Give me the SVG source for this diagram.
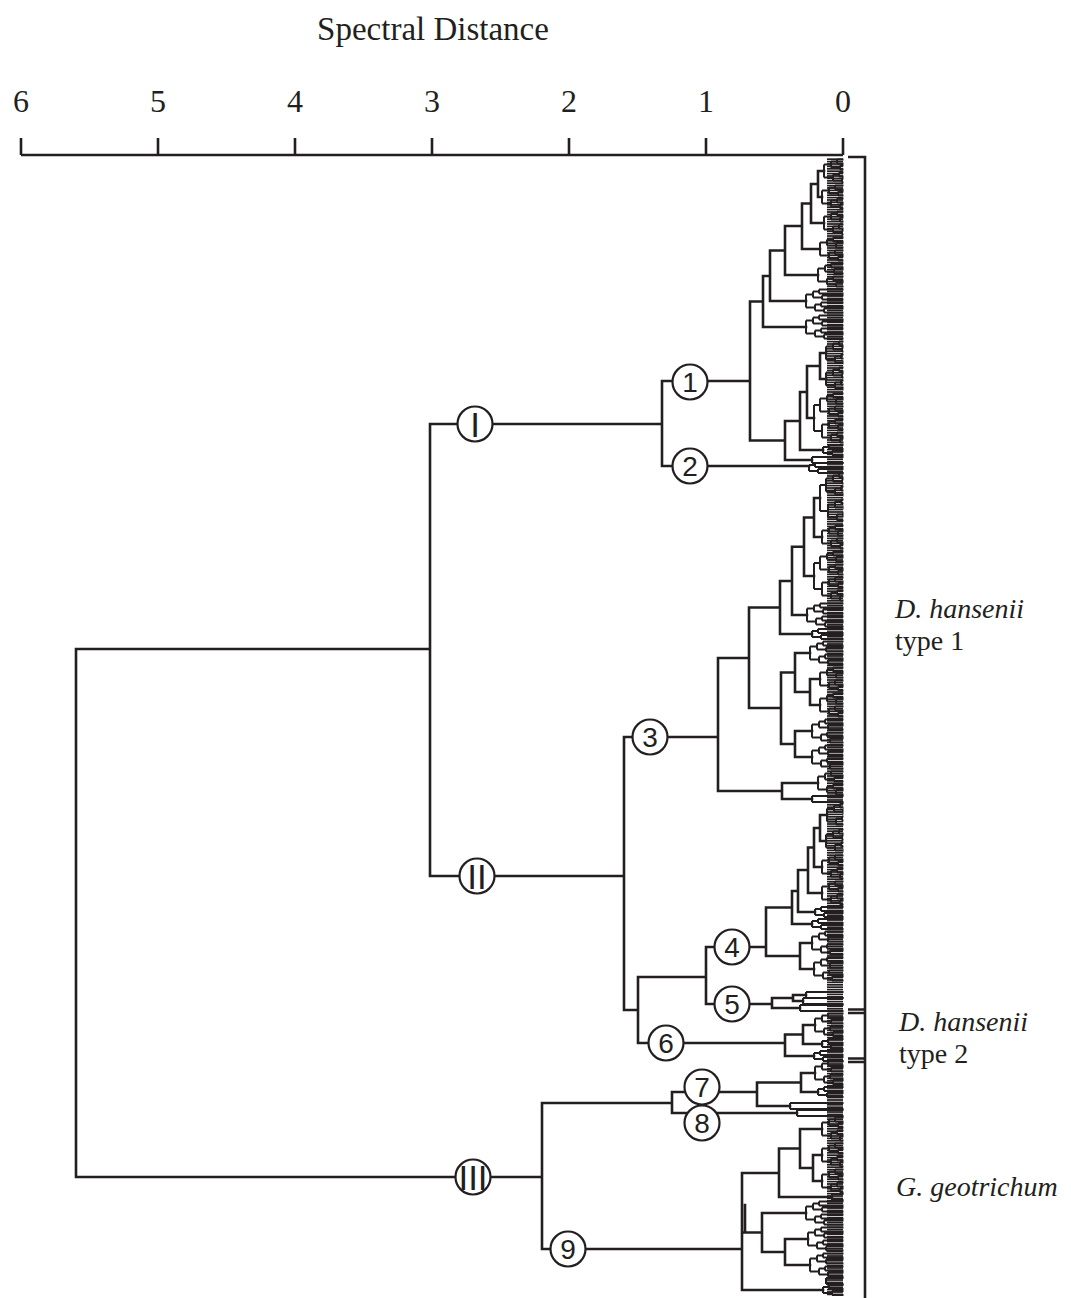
<svg xmlns="http://www.w3.org/2000/svg" xmlns:xlink="http://www.w3.org/1999/xlink" width="1071" height="1298" viewBox="0 0 1071 1298">
<style>
.br{fill:none;stroke:#231f20;stroke-width:2.6;stroke-linecap:square;stroke-linejoin:miter}
.lf{fill:none;stroke:#231f20;stroke-width:2}
.ax{fill:none;stroke:#231f20;stroke-width:2.6}
.cir{fill:#fff;stroke:#231f20;stroke-width:2.2}
.num{font-family:"Liberation Sans",Arial,sans-serif;font-size:28px;fill:#231f20;text-anchor:middle}
.rom{font-family:"Liberation Sans",Arial,sans-serif;font-size:35px;fill:#231f20;text-anchor:middle}
.ser{font-family:"Liberation Serif","Times New Roman",serif;fill:#231f20}
.tick{font-size:32px;text-anchor:middle}
.lab{font-size:28px}
.it{font-style:italic}
</style>
<defs>
<clipPath id="cp"><rect x="0" y="150" width="843.5" height="1148"/></clipPath>
<pattern id="lv" width="20" height="2.4" patternUnits="userSpaceOnUse"><rect width="20" height="1.7" fill="#231f20"/></pattern>
<path id="T" d="M0,-3V3M0,-3H130M0,3H130"/>
<path id="S" d="M0,-3V3M0,-3H6M6,-5V-1M6,-5H130M6,-1H130M0,3H9M9,1V5M9,1H130M9,5H130"/>
<g id="M"><path d="M0,-6.5V6.5M0,-6.5H7M0,6.5H9"/><use href="#S" x="7" y="-6.5"/><use href="#S" x="9" y="6.5"/></g>
<g id="L"><path d="M0,-13V13M0,-13H6M0,13H8"/><use href="#M" x="6" y="-13"/><use href="#M" x="8" y="13"/></g>
</defs>
<rect width="1071" height="1298" fill="#fff"/>

<g id="axis">
<text class="ser" x="433" y="40" font-size="33" text-anchor="middle">Spectral Distance</text>
<g class="ser tick">
<text x="21" y="112">6</text><text x="158" y="112">5</text><text x="295" y="112">4</text><text x="432" y="112">3</text><text x="569" y="112">2</text><text x="706" y="112">1</text><text x="843" y="112">0</text>
</g>
<path class="ax" d="M21,155H843M21,138V155M158,138V155M295,138V155M432,138V155M569,138V155M706,138V155M843,138V155"/>
</g>

<g id="connectors" clip-path="url(#cp)">
<rect x="827" y="158" width="16" height="1138" fill="url(#lv)"/>
<path class="br" d="M76,649V1177M76,649H430M76,1177H455.5M490.5,1177H542
M430,424V876M430,424H457.5M492.5,424H662M430,876H459.5M494.5,876H624
M662,381V466M662,381H672.5M707.5,381H750M662,466H672.5M707.5,466H809
M750,301.5V440.5
M750,301.5H763M763,276V327M763,276H770M763,327H806
M770,250.5V301M770,250.5H785M770,301H806
M785,226V275M785,226H802M785,275H818
M802,203.5V249M802,203.5H811M802,249H820
M811,184V223M811,184H818M811,223H824
M818,171V197M818,171H824M818,197H822
M750,440.5H785M785,421V460M785,421H800M785,460H812
M800,392V450M800,392H807M800,450H823
M807,366V418M807,366H820M807,418H814
M820,353V379M820,353H826M820,379H826
M624,737H632.5M667.5,737H718
M718,658V791M718,658H749M749,607.5V708
M749,607.5H780M780,581V634M780,634H812
M780,581H792M792,546.75V615M792,615H807
M792,546.75H804M804,517.5V576M804,576H814
M804,517.5H814M814,498V537M814,498H820M814,537H822
M749,708H781M781,672.5V744
M781,672.5H795M795,653V692M795,653H810M795,692H810M810,679V705M810,679H820M810,705H820
M781,744H795M795,731V757M795,731H812M795,757H812
M718,791H782M782,783V799M782,783H818M782,799H812
M624,737V1010M624,1010H638
M638,977V1043M638,977H706M638,1043H648.5M683.5,1043H785
M706,947V1004M706,947H714.5M749.5,947H766M706,1004H714.5M749.5,1004H772
M766,907.5V956M766,907.5H792M792,891V924M792,924H812
M792,891H798M798,870V912M798,912H815
M798,870H808M808,847.5V893M808,893H822
M808,847.5H814M814,828V867M814,867H822
M814,828H820M820,815V841M820,815H827M820,841H826
M766,956H800M800,943V969M800,943H812M800,969H814
M772,998V1008M772,998H793M793,995V1001M793,995H806M793,1001H803M772,1008H800
M785,1034.5V1056M785,1034.5H803M803,1025V1044M803,1025H815M803,1044H822M785,1056H814
M542,1103V1249M542,1103H672M542,1249H550.5M585.5,1249H742
M672,1092V1113M672,1092H685M719,1092H757M672,1113H688M716,1113H797
M757,1082.5V1106M757,1082.5H801M801,1073V1092M801,1073H815M801,1092H818M757,1106H790
M742,1173V1290M742,1173H779M742,1290H823M742,1232.5H762M745,1205V1232.5
M779,1148.5V1197M779,1148.5H800M779,1197H832
M800,1129V1168M800,1129H822M800,1168H813M813,1155V1181M813,1155H822M813,1181H822
M762,1213V1252M762,1213H806M762,1252H785M785,1239V1265M785,1239H808M785,1265H810"/>
<g class="lf">
<use href="#M" x="806" y="327"/><use href="#M" x="806" y="301"/><use href="#M" x="818" y="275"/><use href="#M" x="820" y="249"/><use href="#M" x="824" y="223"/><use href="#M" x="822" y="197"/><use href="#M" x="824" y="171"/>
<use href="#T" x="812" y="460"/><use href="#S" x="823" y="450"/><use href="#L" x="814" y="418"/><use href="#M" x="826" y="353"/><use href="#M" x="826" y="379"/><use href="#S" x="809" y="468"/>
<use href="#S" x="812" y="634"/><use href="#M" x="807" y="615"/><use href="#L" x="814" y="576"/><use href="#L" x="820" y="498"/><use href="#M" x="822" y="537"/><use href="#M" x="810" y="653"/><use href="#M" x="820" y="679"/><use href="#M" x="820" y="705"/><use href="#M" x="812" y="731"/><use href="#M" x="812" y="757"/><use href="#M" x="818" y="783"/><use href="#T" x="812" y="799"/>
<use href="#S" x="812" y="924"/><use href="#S" x="815" y="912"/><use href="#M" x="822" y="893"/><use href="#M" x="822" y="867"/><use href="#M" x="827" y="815"/><use href="#M" x="826" y="841"/><use href="#M" x="812" y="943"/><use href="#M" x="814" y="969"/>
<use href="#T" x="806" y="995"/><use href="#T" x="803" y="1001"/><use href="#T" x="800" y="1008"/>
<use href="#M" x="815" y="1025"/><use href="#S" x="822" y="1044"/><use href="#S" x="814" y="1056"/>
<use href="#T" x="797" y="1113"/><use href="#M" x="815" y="1073"/><use href="#S" x="818" y="1092"/><use href="#T" x="790" y="1106"/>
<use href="#S" x="823" y="1290"/><use href="#T" x="832" y="1197"/><use href="#M" x="822" y="1129"/><use href="#M" x="822" y="1155"/><use href="#M" x="822" y="1181"/><use href="#M" x="806" y="1213"/><use href="#M" x="808" y="1239"/><use href="#M" x="810" y="1265"/><use href="#T" x="826" y="1281"/>
</g>
</g>

<g id="node-I"><circle class="cir" cx="475" cy="424" r="17.5"/><text class="rom" x="475" y="436.5">I</text></g>
<g id="node-II"><circle class="cir" cx="477" cy="876" r="17.5"/><text class="rom" x="477" y="888.5">II</text></g>
<g id="node-III"><circle class="cir" cx="473" cy="1177" r="17.5"/><text class="rom" x="473" y="1189.5">III</text></g>
<g id="node-1"><circle class="cir" cx="690" cy="382" r="17.5"/><text class="num" x="690" y="392">1</text></g>
<g id="node-2"><circle class="cir" cx="690" cy="466" r="17.5"/><text class="num" x="690" y="476">2</text></g>
<g id="node-3"><circle class="cir" cx="650" cy="737" r="17.5"/><text class="num" x="650" y="747">3</text></g>
<g id="node-4"><circle class="cir" cx="732" cy="947" r="17.5"/><text class="num" x="732" y="957">4</text></g>
<g id="node-5"><circle class="cir" cx="732" cy="1004" r="17.5"/><text class="num" x="732" y="1014">5</text></g>
<g id="node-6"><circle class="cir" cx="666" cy="1043" r="17.5"/><text class="num" x="666" y="1053">6</text></g>
<g id="node-7"><circle class="cir" cx="702" cy="1087" r="17.5"/><text class="num" x="702" y="1097">7</text></g>
<g id="node-8"><circle class="cir" cx="702" cy="1123" r="17.5"/><text class="num" x="702" y="1133">8</text></g>
<g id="node-9"><circle class="cir" cx="568" cy="1249" r="17.5"/><text class="num" x="568" y="1259">9</text></g>

<g id="brackets">
<path class="ax" d="M848,157H865V1298M848,1009.5H865M848,1013H865M848,1058.5H865M848,1062H865"/>
</g>
<g id="label-type1" class="ser lab"><text class="it" x="895" y="618">D. hansenii</text><text x="895" y="650">type 1</text></g>
<g id="label-type2" class="ser lab"><text class="it" x="899" y="1031">D. hansenii</text><text x="899" y="1063">type 2</text></g>
<g id="label-geo" class="ser lab"><text class="it" x="896" y="1196">G. geotrichum</text></g>
</svg>
